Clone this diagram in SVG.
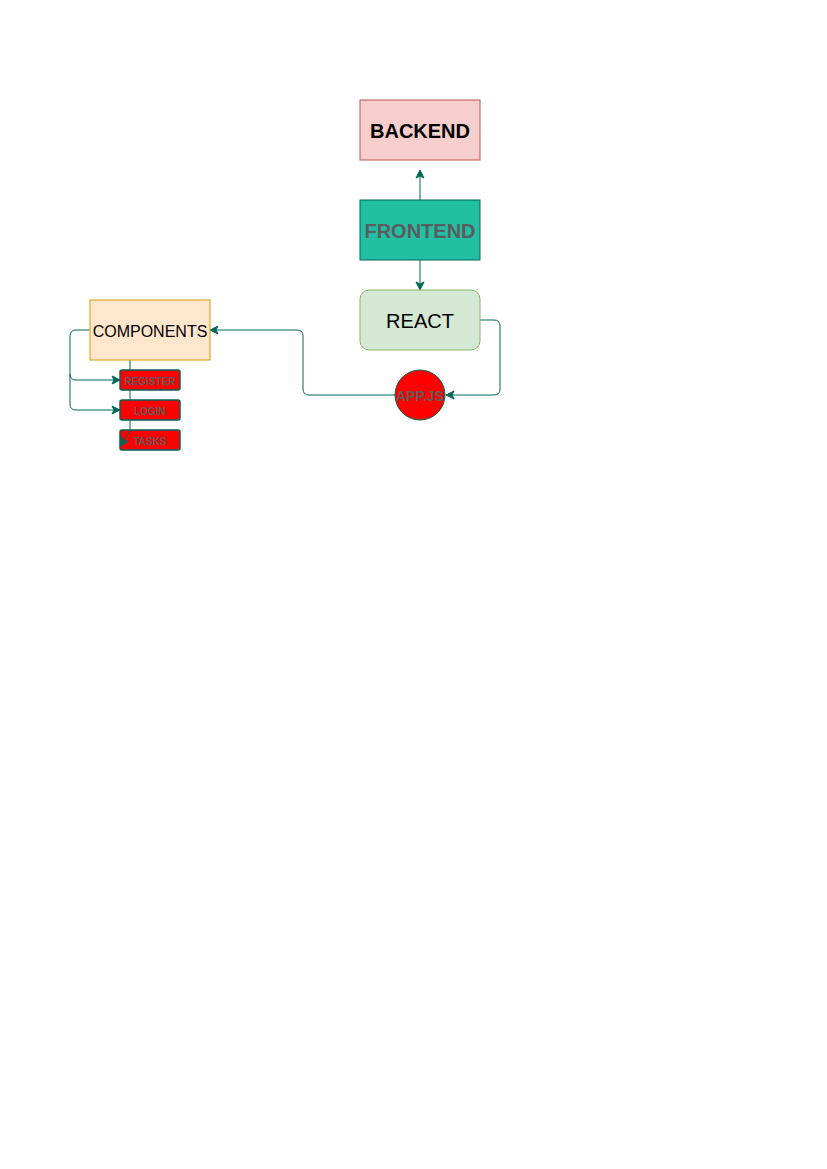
<svg xmlns="http://www.w3.org/2000/svg" width="827" height="1169" viewBox="0 0 827 1169">
<style>
text{font-family:"Liberation Sans",Arial,sans-serif;text-anchor:middle;dominant-baseline:central}
.e{fill:none;stroke:#006658;stroke-width:1}
.sm{fill:#5C5C5C;font-weight:bold;font-size:10px}
.r{fill:#ff0000;stroke:#006658;stroke-width:1.5}
</style>
<defs>
<marker id="a" markerWidth="10" markerHeight="10" refX="8" refY="5" orient="auto" markerUnits="userSpaceOnUse">
<path d="M1,1 L9,5 L1,9 L3,5 Z" fill="#006658" stroke="#006658"/>
</marker>
</defs>
<rect width="827" height="1169" fill="#fff"/>
<g id="connectors">
<path class="e" d="M420,200 L420,171" marker-end="url(#a)"/>
<path class="e" d="M420,260 L420,289" marker-end="url(#a)"/>
<path class="e" d="M480,320 L494,320 Q500,320 500,326 L500,389 Q500,395 494,395 L447,395" marker-end="url(#a)"/>
<path class="e" d="M395,395 L309,395 Q303,395 303,389 L303,336 Q303,330 297,330 L211,330" marker-end="url(#a)"/>
<path class="e" d="M90,330 L76,330 Q70,330 70,336 L70,374 Q70,380 76,380 L119,380" marker-end="url(#a)"/>
<path class="e" d="M70,374 L70,404 Q70,410 76,410 L119,410" marker-end="url(#a)"/>
<path class="e" d="M130,360 L130,370"/>
<path class="e" d="M130,390 L130,400"/>
</g>
<g id="backend">
<rect x="360" y="100" width="120" height="60" fill="#f8cecc" stroke="#b85450"/>
<text x="420" y="131" font-size="20" font-weight="bold">BACKEND</text>
</g>
<g id="frontend">
<rect x="360" y="200" width="120" height="60" fill="#21C0A5" stroke="#006658"/>
<text x="420" y="231" font-size="20" font-weight="bold" fill="#5C5C5C">FRONTEND</text>
</g>
<g id="react">
<rect x="360" y="290" width="120" height="60" rx="9" fill="#d5e8d4" stroke="#82b366"/>
<text x="420" y="321" font-size="20">REACT</text>
</g>
<g id="appjs">
<circle cx="420" cy="395" r="25" fill="#ff0000" stroke="#006658"/>
<text x="420" y="396" font-size="14" font-weight="bold" fill="#5C5C5C">APP.JS</text>
</g>
<g id="components">
<rect x="90" y="300" width="120" height="60" fill="#ffe6cc" stroke="#d79b00"/>
<text x="150" y="331" font-size="16">COMPONENTS</text>
</g>
<g id="register">
<rect class="r" x="120" y="370" width="60" height="20" rx="2"/>
<text class="sm" x="150" y="381">REGISTER</text>
</g>
<g id="login">
<rect class="r" x="120" y="400" width="60" height="20" rx="2"/>
<text class="sm" x="150" y="411">LOGIN</text>
</g>
<g id="tasks">
<rect class="r" x="120" y="430" width="60" height="20" rx="2"/>
<text class="sm" x="150" y="441">TASKS</text>
</g>
<g id="connector-tasks">
<path class="e" d="M130,420 L130,431 L121,445" marker-end="url(#a)"/>
</g>
</svg>
